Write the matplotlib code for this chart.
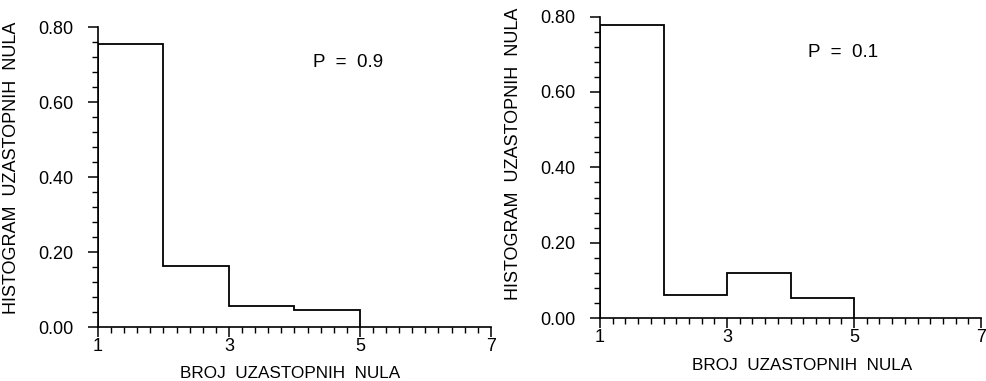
"""Histogram of consecutive zeros for P = 0.9 and P = 0.1."""
import matplotlib

matplotlib.use("Agg")
import matplotlib.pyplot as plt
import matplotlib.ticker as ticker

plt.rcParams["font.family"] = ["Liberation Sans", "DejaVu Sans"]

# bin edges (number of consecutive zeros) and histogram heights
EDGES = [1, 2, 3, 4, 5]
HIST_P09 = [0.756, 0.163, 0.056, 0.045]
HIST_P01 = [0.778, 0.062, 0.119, 0.055]
PANEL_LABELS = ["P  =  0.9", "P  =  0.1"]

X_TICKS = [1, 3, 5, 7]
Y_TICKS = [0.0, 0.2, 0.4, 0.6, 0.8]
Y_LABEL = "HISTOGRAM  UZASTOPNIH  NULA"
X_LABEL = "BROJ  UZASTOPNIH  NULA"


def style_axis(ax):
    ax.set_xlim(1, 7)
    ax.set_ylim(0, 0.8)
    ax.spines["top"].set_visible(False)
    ax.spines["right"].set_visible(False)
    for s in ("left", "bottom"):
        ax.spines[s].set_linewidth(1.2)
    ax.set_xticks(X_TICKS)
    ax.set_yticks(Y_TICKS)
    ax.yaxis.set_major_formatter(ticker.FormatStrFormatter("%.2f"))
    ax.xaxis.set_minor_locator(ticker.MultipleLocator(0.2))
    ax.yaxis.set_minor_locator(ticker.MultipleLocator(0.04))
    ax.tick_params(axis="both", which="major", direction="out", length=7,
                   width=1.1, labelsize=13)
    ax.tick_params(axis="both", which="minor", direction="out", length=4,
                   width=1.0)
    ax.tick_params(axis="y", which="major", pad=11)
    ax.tick_params(axis="x", which="major", pad=1)


fig = plt.figure(figsize=(9.87, 3.81), dpi=100)
ax1 = fig.add_axes([0.0993, 0.1417, 0.398, 0.787])
ax2 = fig.add_axes([0.608, 0.1646, 0.386, 0.792])

for ax, hist, label in zip([ax1, ax2], [HIST_P09, HIST_P01], PANEL_LABELS):
    ax.stairs(hist, EDGES, baseline=0, fill=False, color="black", linewidth=1.3)
    style_axis(ax)
    ax.set_ylabel(Y_LABEL, fontsize=13)
    ax.set_xlabel(X_LABEL, fontsize=12.3)
    ax.text(4.28, 0.705, label, fontsize=13.5, va="center", ha="left")

ax1.yaxis.set_label_coords(-0.198, 0.53)
ax1.xaxis.set_label_coords(0.49, -0.13)
ax2.yaxis.set_label_coords(-0.204, 0.545)
ax2.xaxis.set_label_coords(0.53, -0.13)

fig.savefig("out.png", dpi=100, facecolor="white")
